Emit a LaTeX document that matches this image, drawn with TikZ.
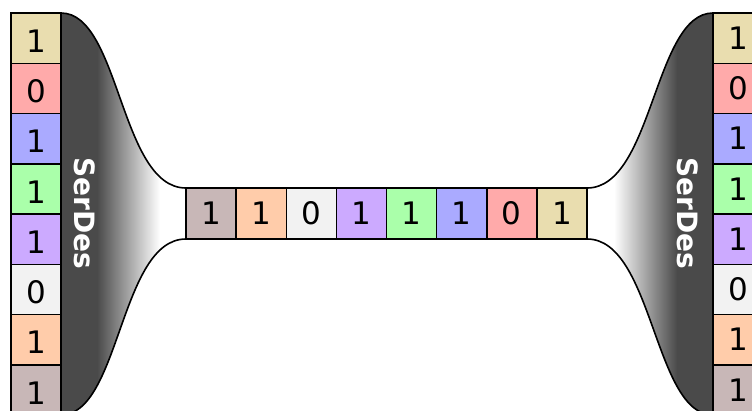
\documentclass[tikz,border=0pt]{standalone}
\usepackage{fontspec}
\setmainfont{DejaVu Sans}
\definecolor{ctan}{HTML}{E9DDAF}
\definecolor{cpink}{HTML}{FFAAAA}
\definecolor{cblue}{HTML}{AAAAFF}
\definecolor{cgreen}{HTML}{AAFFAA}
\definecolor{cpurple}{HTML}{CCAAFF}
\definecolor{cgray}{HTML}{F2F2F2}
\definecolor{cpeach}{HTML}{FFCCAA}
\definecolor{cmauve}{HTML}{C8B7B7}
\definecolor{serdark}{HTML}{4A4A4A}
\tikzset{
  bitbox/.style={draw=black, line width=1.5pt, inner sep=0pt, outer sep=0pt,
    font=\fontsize{31}{31}\selectfont, anchor=north west},
  colbit/.style={bitbox, minimum width=50pt, minimum height=50.25pt},
  lowbit/.style={colbit, text height=28.6pt, text depth=0pt},
  midbit/.style={bitbox, minimum width=50.125pt, minimum height=51pt},
  serline/.style={draw=black, line width=1.6pt},
  serlabel/.style={text=white, font=\fontsize{28}{28}\selectfont\bfseries, rotate=-90}
}
\begin{document}
\begin{tikzpicture}[x=1pt, y=-1pt]
\useasboundingbox (0,0) rectangle (752,410);
\clip (0,0) rectangle (752,410);
% nodes
\foreach \c/\d [count=\i] in {ctan/1, cpink/0, cblue/1, cgreen/1, cpurple/1, cgray/0, cpeach/1, cmauve/1} {
  \node[lowbit, fill=\c] (l\i) at (11, {13+50.25*(\i-1)}) {\d};
  \node[colbit, fill=\c] (r\i) at (713, {13+50.25*(\i-1)}) {\d};
}
\foreach \c/\d [count=\i] in {cmauve/1, cpeach/1, cgray/0, cpurple/1, cgreen/1, cblue/1, cpink/0, ctan/1} {
  \node[midbit, fill=\c] (m\i) at ({186+50.125*(\i-1)}, 188) {\d};
}
% left SerDes shape
\begin{scope}
\clip (l1.north east) .. controls +(59,0) and +(-66,0) .. (m1.north west) -- (m1.south west) .. controls +(-66,0) and +(59,0) .. (l8.south east) -- cycle;
\fill[serdark] (50,0) rectangle (97,420);
\shade[left color=serdark, right color=white] (97,0) rectangle (160,420);
\end{scope}
\draw[serline] (l1.north east) .. controls +(59,0) and +(-66,0) .. (m1.north west);
\draw[serline] (m1.south west) .. controls +(-66,0) and +(59,0) .. (l8.south east);
% right SerDes shape
\begin{scope}
\clip (r1.north west) .. controls +(-59,0) and +(66,0) .. (m8.north east) -- (m8.south east) .. controls +(66,0) and +(-59,0) .. (r8.south west) -- cycle;
\fill[serdark] (677,0) rectangle (720,420);
\shade[left color=white, right color=serdark] (614,0) rectangle (677,420);
\end{scope}
\draw[serline] (r1.north west) .. controls +(-59,0) and +(66,0) .. (m8.north east);
\draw[serline] (m8.south east) .. controls +(66,0) and +(-59,0) .. (r8.south west);
% redraw boxes on top
\foreach \c/\d [count=\i] in {ctan/1, cpink/0, cblue/1, cgreen/1, cpurple/1, cgray/0, cpeach/1, cmauve/1} {
  \node[lowbit, fill=\c] at (l\i.north west) {\d};
  \node[colbit, fill=\c] at (r\i.north west) {\d};
}
\foreach \c/\d [count=\i] in {cmauve/1, cpeach/1, cgray/0, cpurple/1, cgreen/1, cblue/1, cpink/0, ctan/1} {
  \node[midbit, fill=\c] at (m\i.north west) {\d};
}
% labels
\node[serlabel] (sl) at (85,213) {SerDes};
\node[serlabel] (sr) at (688,213) {SerDes};
\end{tikzpicture}
\end{document}
